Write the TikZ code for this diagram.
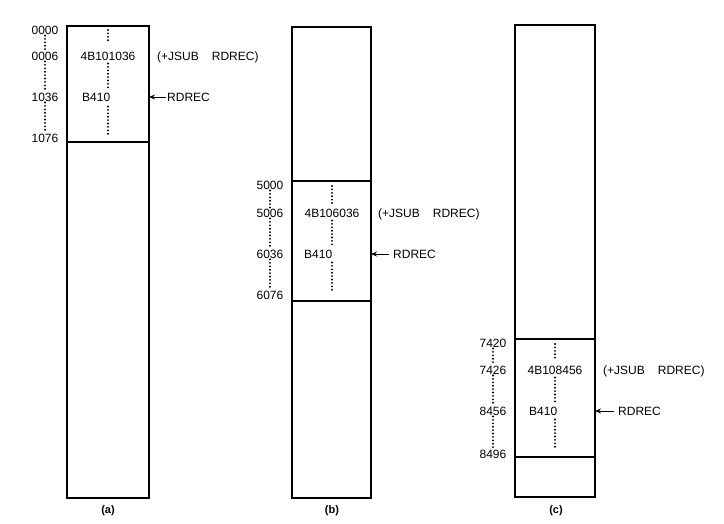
\documentclass[tikz,border=0pt]{standalone}
\usepackage{fontspec}
\setmainfont{Liberation Sans}
\usetikzlibrary{arrows.meta}
\begin{document}
\begin{tikzpicture}[x=1pt, y=-1pt,
  lbl/.style={font=\fontsize{12}{14}\selectfont, inner sep=1pt, text height=8.6pt, text depth=0pt},
  sublbl/.style={font=\fontsize{11}{13}\selectfont\bfseries, inner sep=1pt},
  mem/.style={draw=black, line width=1.1pt, inner sep=0pt, outer sep=0pt},
  dots/.style={line width=2.1pt, line cap=round, dash pattern=on 0pt off 3.4pt},
  ptr/.style={-{Stealth[length=6pt, width=5pt]}, line width=1pt}
]
\useasboundingbox (0,0) rectangle (724,523);

% (a)
\node[mem, minimum width=82pt, minimum height=472pt] (abox) at (108,262) {};
\draw[mem] (67,142) -- (149,142);
\node[lbl] (a0) at (45,30)  {0000};
\node[lbl] (a1) at (45,56)  {0006};
\node[lbl] (a2) at (45,97)  {1036};
\node[lbl] (a3) at (45,138) {1076};
\node[lbl] (acall) at (108,56) {4B101036};
\node[lbl, anchor=west] (aret) at (81,97) {B410};
\node[lbl, anchor=west] (anote) at (156,56) {(+JSUB\hspace{13pt}RDREC)};
\node[lbl, anchor=west] (aname) at (166,97) {RDREC};
\coordinate (atop) at (108,30);
\coordinate (aend) at (108,136);
\draw[dots] (a0) -- (a1);
\draw[dots] (a1) -- (a2);
\draw[dots] (a2) -- (a3);
\draw[dots, shorten >=7pt] (atop) -- (acall);
\draw[dots, shorten <=2pt, shorten >=3pt] (acall) -- (acall |- aret.north);
\draw[dots, shorten <=4pt] (acall |- aret.south) -- (aend);
\draw[ptr] (aname.west) -- (abox.east |- aname);
\node[sublbl] (alab) at (108,511) {(a)};

% (b)
\node[mem, minimum width=79pt, minimum height=471pt] (bbox) at (331.5,262.5) {};
\draw[mem] (292,181) -- (371,181);
\draw[mem] (292,301) -- (371,301);
\node[lbl] (b0) at (270,185) {5000};
\node[lbl] (b1) at (270,213) {5006};
\node[lbl] (b2) at (270,254) {6036};
\node[lbl] (b3) at (270,295) {6076};
\node[lbl] (bcall) at (332,213) {4B106036};
\node[lbl, anchor=west] (bret) at (303,254) {B410};
\node[lbl, anchor=west] (bnote) at (377,213) {(+JSUB\hspace{13pt}RDREC)};
\node[lbl, anchor=west] (bname) at (392,254) {RDREC};
\coordinate (btop) at (332,186);
\coordinate (bend) at (332,292);
\draw[dots] (b0) -- (b1);
\draw[dots] (b1) -- (b2);
\draw[dots] (b2) -- (b3);
\draw[dots, shorten >=3pt] (btop) -- (bcall);
\draw[dots, shorten <=2pt, shorten >=3pt] (bcall) -- (bcall |- bret.north);
\draw[dots, shorten <=3pt] (bcall |- bret.south) -- (bend);
\draw[ptr, shorten <=3pt] (bname.west) -- (bbox.east |- bname);
\node[sublbl] (blab) at (332,511) {(b)};

% (c)
\node[mem, minimum width=80pt, minimum height=472pt] (cbox) at (555,261) {};
\draw[mem] (515,339) -- (595,339);
\draw[mem] (515,457) -- (595,457);
\node[lbl] (c0) at (493,343) {7420};
\node[lbl] (c1) at (493,370) {7426};
\node[lbl] (c2) at (493,411) {8456};
\node[lbl] (c3) at (493,454) {8496};
\node[lbl] (ccall) at (555,370) {4B108456};
\node[lbl, anchor=west] (cret) at (528,411) {B410};
\node[lbl, anchor=west] (cnote) at (602,370) {(+JSUB\hspace{13pt}RDREC)};
\node[lbl, anchor=west] (cname) at (617,411) {RDREC};
\coordinate (ctop) at (555,344);
\coordinate (cend) at (555,448);
\draw[dots] (c0) -- (c1);
\draw[dots] (c1) -- (c2);
\draw[dots] (c2) -- (c3);
\draw[dots, shorten >=4pt] (ctop) -- (ccall);
\draw[dots, shorten <=2pt, shorten >=3pt] (ccall) -- (ccall |- cret.north);
\draw[dots, shorten <=3pt] (ccall |- cret.south) -- (cend);
\draw[ptr, shorten <=3pt] (cname.west) -- (cbox.east |- cname);
\node[sublbl] (clab) at (556,511) {(c)};
\end{tikzpicture}
\end{document}
